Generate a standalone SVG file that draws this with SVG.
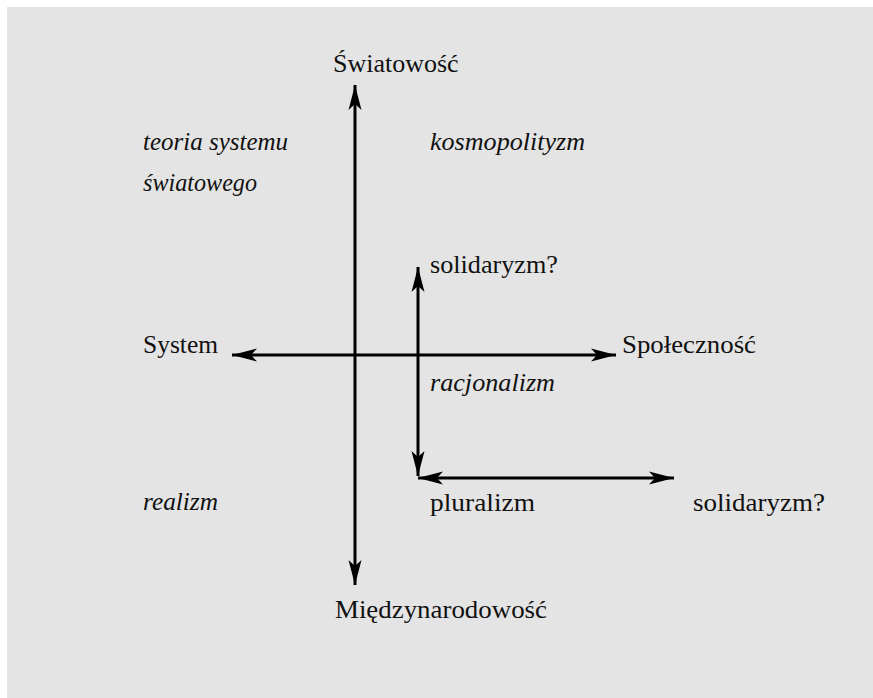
<svg xmlns="http://www.w3.org/2000/svg" width="873" height="698" viewBox="0 0 873 698">
<style>
.t{font-family:"Liberation Serif","DejaVu Serif",serif;font-size:26px;fill:#111}
.i{font-style:italic;font-size:25px}
.c{stroke:#000;stroke-width:3;fill:none}
</style>
<defs>
<marker id="ah" viewBox="-26 -8 28 16" refX="0" refY="0" markerWidth="28" markerHeight="16" markerUnits="userSpaceOnUse" orient="auto-start-reverse">
<path d="M0,0 L-25,-6.5 L-19,0 L-25,6.5 Z" fill="#000"/>
</marker>
</defs>
<rect x="0" y="0" width="873" height="698" fill="#fff"/>
<rect x="7" y="7" width="866" height="691" fill="#e4e4e4"/>
<g id="connectors">
<line class="c" x1="355" y1="585" x2="355" y2="85" marker-start="url(#ah)" marker-end="url(#ah)"/>
<line class="c" x1="232" y1="355" x2="616" y2="355" marker-start="url(#ah)" marker-end="url(#ah)"/>
<line class="c" x1="418" y1="476" x2="418" y2="267" marker-start="url(#ah)" marker-end="url(#ah)"/>
<line class="c" x1="418" y1="478" x2="674" y2="478" marker-start="url(#ah)" marker-end="url(#ah)"/>
</g>
<g id="swiatowosc"><text class="t" x="333" y="72">Światowość</text></g>
<g id="teoria"><text class="t i" x="143" y="150" textLength="145" lengthAdjust="spacingAndGlyphs">teoria systemu</text><text class="t i" x="143" y="191" textLength="114" lengthAdjust="spacingAndGlyphs">światowego</text></g>
<g id="kosmopolityzm"><text class="t i" x="430" y="150" textLength="155" lengthAdjust="spacingAndGlyphs">kosmopolityzm</text></g>
<g id="solidaryzm1"><text class="t" x="430" y="273" textLength="128" lengthAdjust="spacingAndGlyphs">solidaryzm?</text></g>
<g id="system"><text class="t" x="143" y="353" textLength="75" lengthAdjust="spacingAndGlyphs">System</text></g>
<g id="spolecznosc"><text class="t" x="622" y="353" textLength="134" lengthAdjust="spacingAndGlyphs">Społeczność</text></g>
<g id="racjonalizm"><text class="t i" x="430" y="391" textLength="125" lengthAdjust="spacingAndGlyphs">racjonalizm</text></g>
<g id="realizm"><text class="t i" x="143" y="510" textLength="75" lengthAdjust="spacingAndGlyphs">realizm</text></g>
<g id="pluralizm"><text class="t" x="430" y="511" textLength="105" lengthAdjust="spacingAndGlyphs">pluralizm</text></g>
<g id="solidaryzm2"><text class="t" x="693" y="511" textLength="132" lengthAdjust="spacingAndGlyphs">solidaryzm?</text></g>
<g id="miedzynarodowosc"><text class="t" x="335" y="618" textLength="212" lengthAdjust="spacingAndGlyphs">Międzynarodowość</text></g>
</svg>
